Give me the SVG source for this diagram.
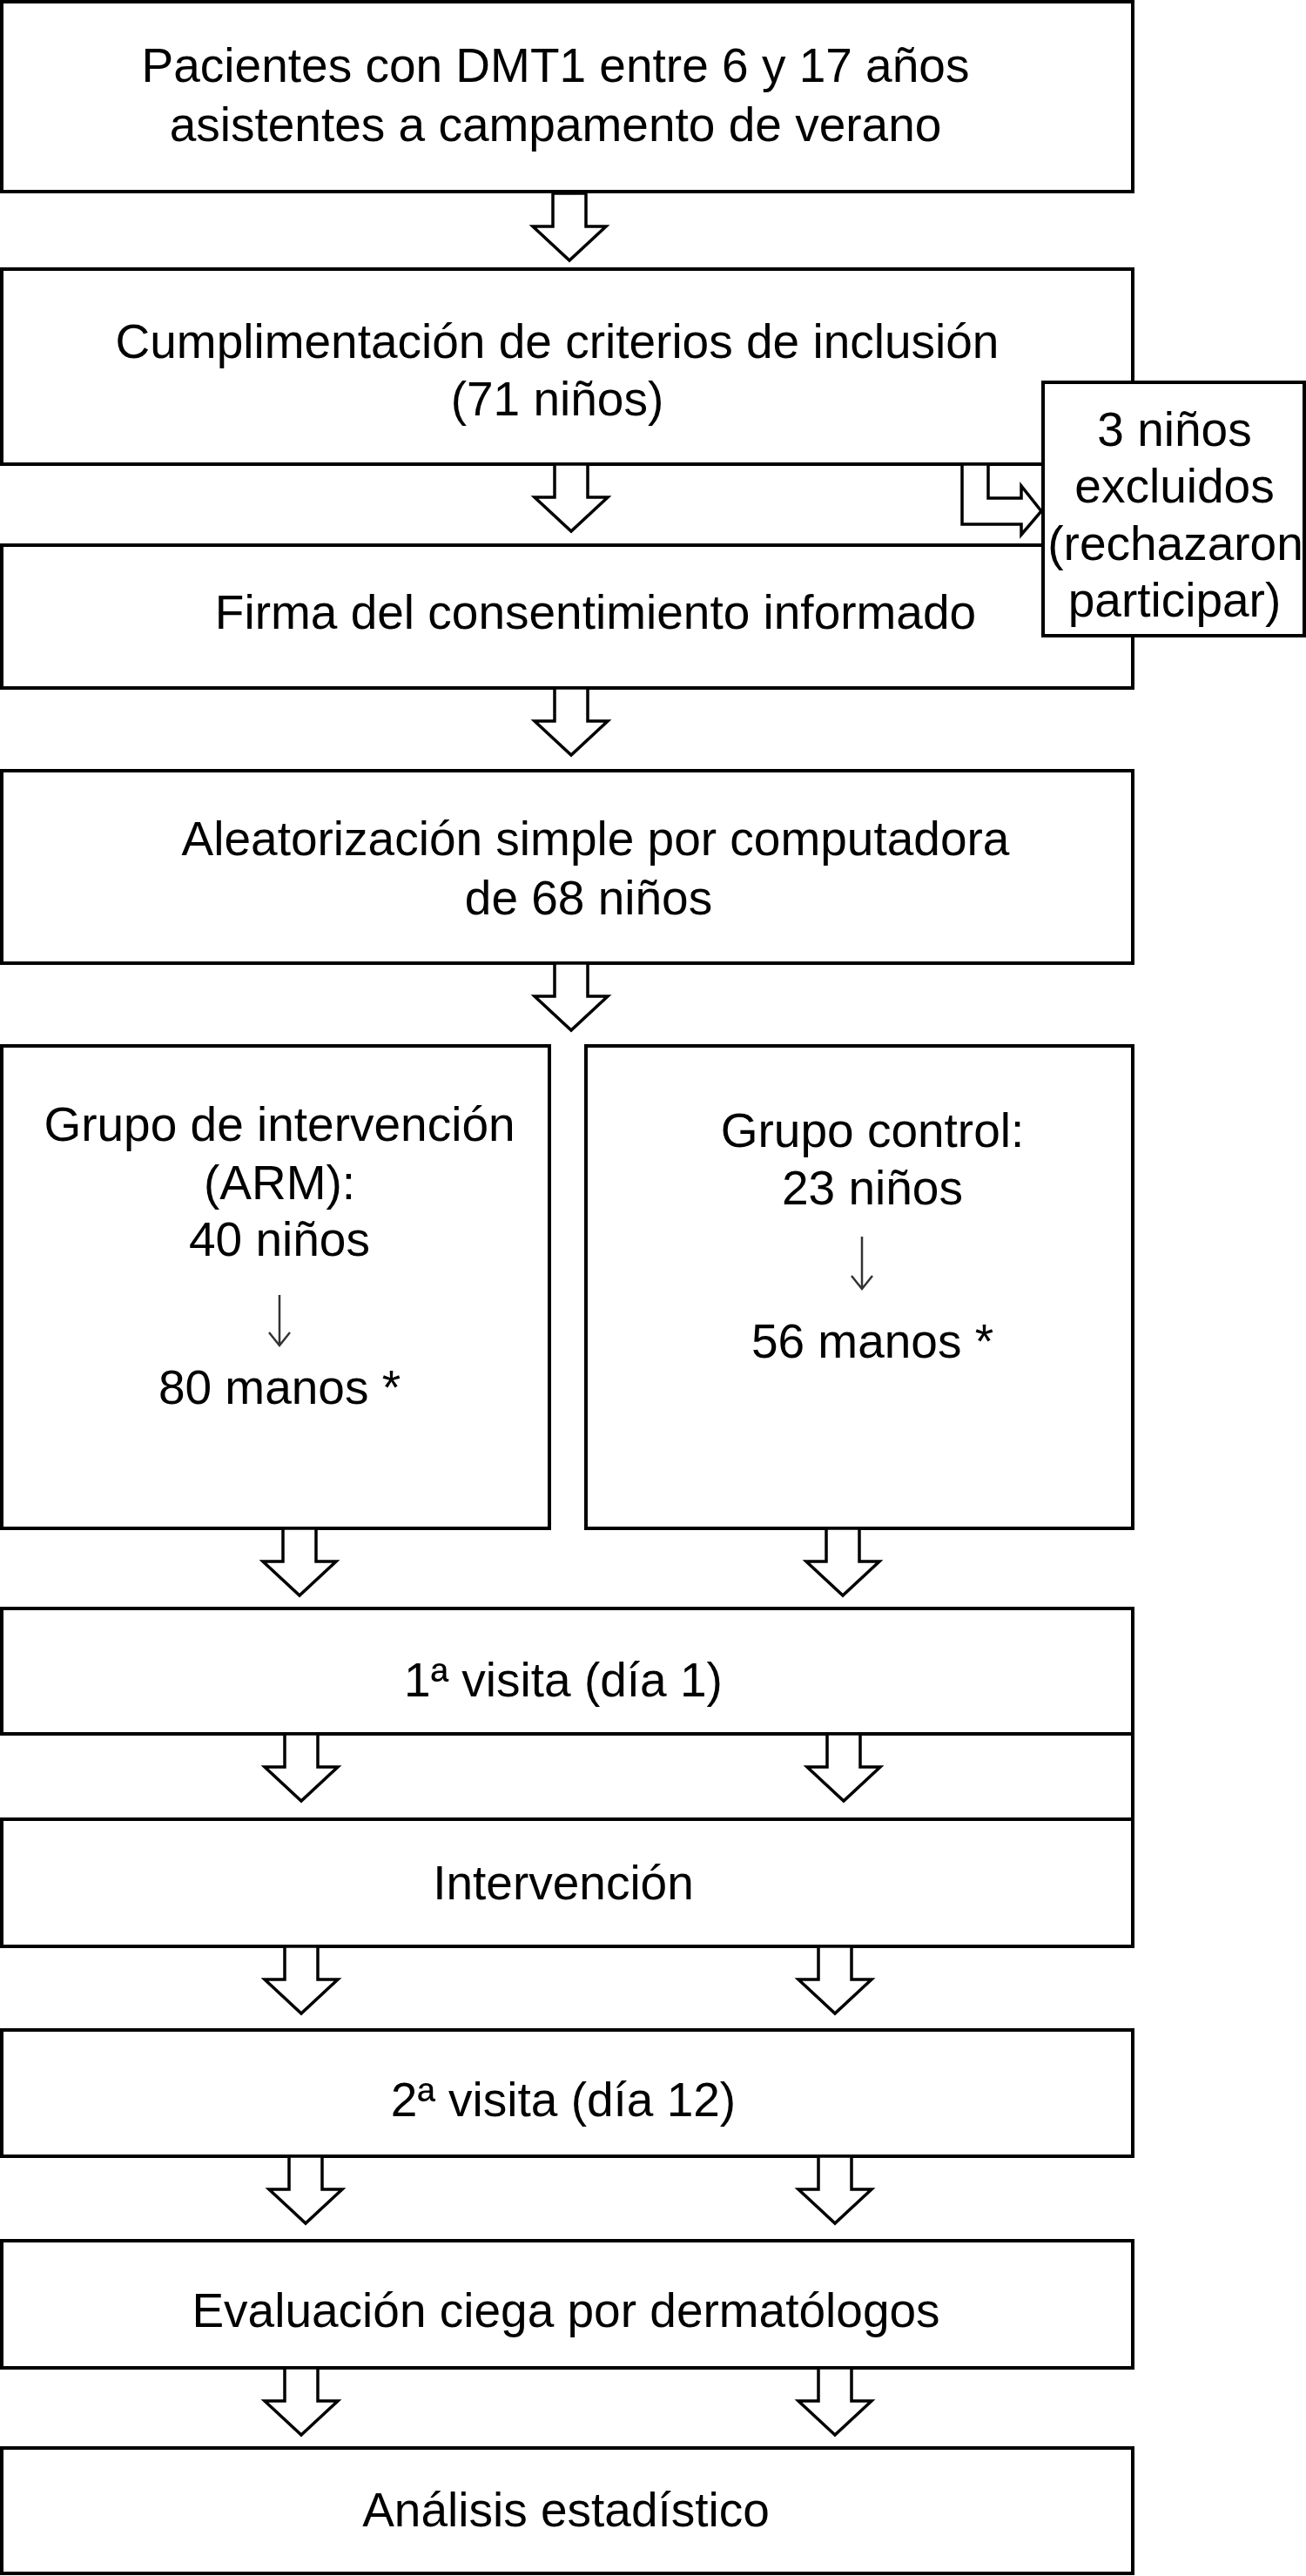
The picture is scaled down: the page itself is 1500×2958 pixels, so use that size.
<svg xmlns="http://www.w3.org/2000/svg" width="1500" height="2958" viewBox="0 0 1500 2958">
<style>
.box{fill:#fff;stroke:#000;stroke-width:4}
.arr{fill:#fff;stroke:#000;stroke-width:3.5;stroke-linejoin:miter}
.thin{fill:none;stroke:#333;stroke-width:2.5}
text{font-family:"Liberation Sans",Arial,Helvetica,sans-serif;font-size:55px;fill:#000;text-anchor:middle}
</style>
<rect width="1500" height="2958" fill="#fff"/>
<g id="n1"><rect class="box" x="2" y="2" width="1299" height="218"/>
<text x="638" y="94">Pacientes con DMT1 entre 6 y 17 años</text>
<text x="638" y="162">asistentes a campamento de verano</text></g>
<g id="n2"><rect class="box" x="2" y="309" width="1299" height="224"/>
<text x="640" y="411">Cumplimentación de criterios de inclusión</text>
<text x="640" y="477">(71 niños)</text></g>
<g id="n3"><rect class="box" x="2" y="626" width="1299" height="164"/>
<text x="684" y="722">Firma del consentimiento informado</text></g>
<g id="n4"><rect class="box" x="2" y="885" width="1299" height="221"/>
<text x="684" y="982">Aleatorización simple por computadora</text>
<text x="676" y="1050">de 68 niños</text></g>
<g id="n5a"><rect class="box" x="2" y="1201" width="629" height="554"/>
<text x="321" y="1310">Grupo de intervención</text>
<text x="321" y="1377">(ARM):</text>
<text x="321" y="1442">40 niños</text>
<path class="thin" d="M321,1487 V1545 M309,1530 L321,1545 L333,1530"/>
<text x="321" y="1612">80 manos *</text></g>
<g id="n5b"><rect class="box" x="673" y="1201" width="628" height="554"/>
<text x="1002" y="1317">Grupo control:</text>
<text x="1002" y="1383">23 niños</text>
<path class="thin" d="M990,1420 V1480 M978,1465 L990,1480 L1002,1465"/>
<text x="1002" y="1559">56 manos *</text></g>
<g id="n6"><rect class="box" x="2" y="1847" width="1299" height="144"/>
<text x="647" y="1948">1ª visita (día 1)</text></g>
<g id="n7"><rect class="box" x="2" y="2089" width="1299" height="146"/>
<text x="647" y="2181">Intervención</text></g>
<g id="n8"><rect class="box" x="2" y="2331" width="1299" height="145"/>
<text x="647" y="2430">2ª visita (día 12)</text></g>
<g id="n9"><rect class="box" x="2" y="2573" width="1299" height="146"/>
<text x="650" y="2672">Evaluación ciega por dermatólogos</text></g>
<g id="n10"><rect class="box" x="2" y="2811" width="1299" height="144"/>
<text x="650" y="2901">Análisis estadístico</text></g>
<g id="connectors">
<line x1="1301" y1="1991" x2="1301" y2="2089" stroke="#000" stroke-width="4"/>
<polygon class="arr" points="635,222 673,222 673,260 696,260 654,299 612,260 635,260"/>
<polygon class="arr" points="637,533 675,533 675,571 698,571 656,610 614,571 637,571"/>
<polygon class="arr" points="637,790 675,790 675,828 698,828 656,867 614,828 637,828"/>
<polygon class="arr" points="637,1106 675,1106 675,1144 698,1144 656,1183 614,1144 637,1144"/>
<polygon class="arr" points="325,1755 363,1755 363,1793 386,1793 344,1832 302,1793 325,1793"/>
<polygon class="arr" points="949,1755 987,1755 987,1793 1010,1793 968,1832 926,1793 949,1793"/>
<polygon class="arr" points="327,1991 365,1991 365,2029 388,2029 346,2068 304,2029 327,2029"/>
<polygon class="arr" points="950,1991 988,1991 988,2029 1011,2029 969,2068 927,2029 950,2029"/>
<polygon class="arr" points="327,2235 365,2235 365,2273 388,2273 346,2312 304,2273 327,2273"/>
<polygon class="arr" points="940,2235 978,2235 978,2273 1001,2273 959,2312 917,2273 940,2273"/>
<polygon class="arr" points="332,2476 370,2476 370,2514 393,2514 351,2553 309,2514 332,2514"/>
<polygon class="arr" points="940,2476 978,2476 978,2514 1001,2514 959,2553 917,2514 940,2514"/>
<polygon class="arr" points="327,2719 365,2719 365,2757 388,2757 346,2796 304,2757 327,2757"/>
<polygon class="arr" points="940,2719 978,2719 978,2757 1001,2757 959,2796 917,2757 940,2757"/>
<polygon class="arr" points="1105,533 1135,533 1135,572 1173,572 1173,558 1196,587 1173,614 1173,602 1105,602"/>
</g>
<g id="n11"><rect class="box" x="1198" y="439" width="300" height="291"/>
<text x="1349" y="512">3 niños</text>
<text x="1349" y="577">excluidos</text>
<text x="1350" y="643">(rechazaron</text>
<text x="1349" y="708">participar)</text></g>
</svg>
